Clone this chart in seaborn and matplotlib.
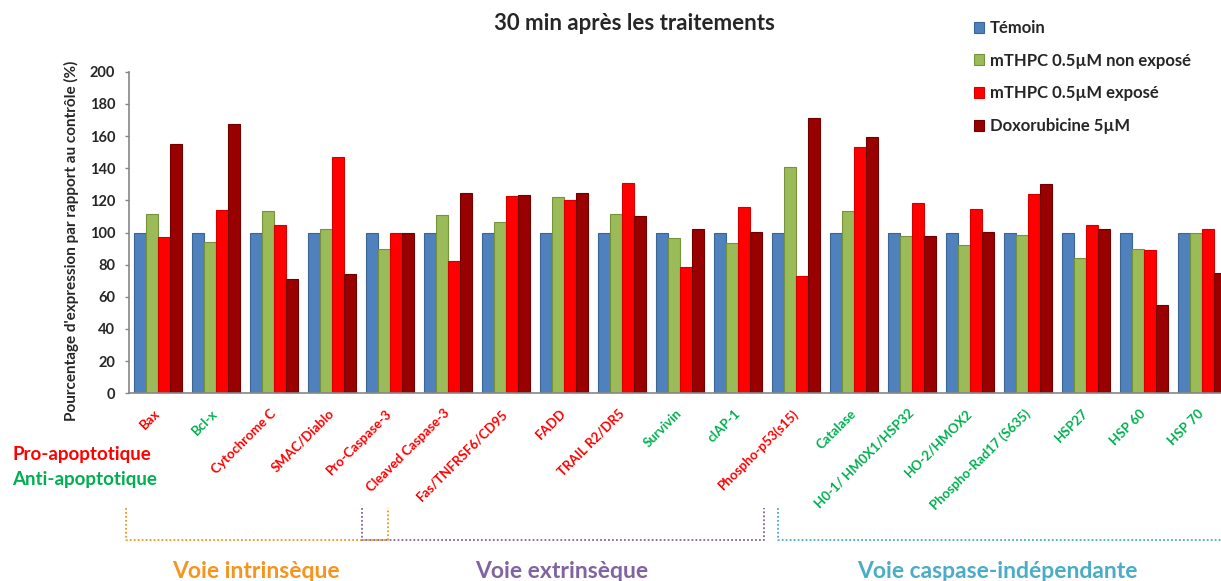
import numpy as np
import pandas as pd
import matplotlib
matplotlib.use("Agg")
import matplotlib.pyplot as plt
import seaborn as sns
from matplotlib.lines import Line2D

# ---- data -------------------------------------------------------------
marqueurs = [
    "Bax", "Bcl-x", "Cytochrome C", "SMAC/Diablo", "Pro-Caspase-3",
    "Cleaved Caspase-3", "Fas/TNFRSF6/CD95", "FADD", "TRAIL R2/DR5",
    "Survivin", "cIAP-1", "Phospho-p53(s15)", "Catalase",
    "H0-1/ HM0X1/HSP32", "HO-2/HMOX2", "Phospho-Rad17 (S635)",
    "HSP27", "HSP 60", "HSP 70",
]
# "pro" = pro-apoptotic (red label), "anti" = anti-apoptotic (green label)
role = [
    "pro", "anti", "pro", "pro", "pro",
    "pro", "pro", "pro", "pro",
    "anti", "anti", "pro", "anti",
    "anti", "anti", "anti",
    "anti", "anti", "anti",
]
temoin = [100, 100, 100, 100, 100, 100, 100, 100, 100, 100,
          100, 100, 100, 100, 100, 100, 100, 100, 100]
mthpc_non_expose = [111.4, 94.2, 113.2, 102.4, 90.0, 111.1, 106.8, 122.1, 111.5, 96.6,
                    93.3, 140.9, 113.6, 97.7, 92.3, 98.5, 84.4, 90.0, 99.5]
mthpc_expose = [97.1, 114.3, 104.9, 146.9, 100.0, 82.0, 122.5, 120.0, 130.8, 78.6,
                115.9, 72.8, 153.1, 118.1, 114.6, 123.9, 104.7, 89.0, 102.0]
doxorubicine = [154.8, 167.7, 70.8, 74.3, 100.0, 124.8, 123.1, 124.8, 110.1, 102.0,
                100.3, 171.5, 159.3, 98.1, 100.6, 130.1, 102.0, 54.8, 74.7]

series_names = ["Témoin", "mTHPC 0.5µM non exposé", "mTHPC 0.5µM exposé", "Doxorubicine 5µM"]
series_values = [temoin, mthpc_non_expose, mthpc_expose, doxorubicine]
y_ticks = [0, 20, 40, 60, 80, 100, 120, 140, 160, 180, 200]

# ---- styling ------------------------------------------------------------
fill_colors = ["#4F81BD", "#9BBB59", "#FF0000", "#990000"]
edge_colors = ["#3A6496", "#76923C", "#D40000", "#700000"]
RED = "#FF0000"
GREEN = "#00B050"
AXIS_GREY = "#868686"

sns.set_style("white")
plt.rcParams["font.family"] = ["Lato", "DejaVu Sans"]
plt.rcParams["font.weight"] = "bold"

df = pd.DataFrame({
    "marqueur": np.tile(marqueurs, len(series_names)),
    "traitement": np.repeat(series_names, len(marqueurs)),
    "valeur": np.concatenate(series_values),
})

W, H = 1221, 581
fig = plt.figure(figsize=(W / 100, H / 100), dpi=100)
n = len(marqueurs)
group_px = 58.0
ax = fig.add_axes([129 / W, (H - 393.3) / H, n * group_px / W, 321.6 / H])

sns.barplot(
    data=df, x="marqueur", y="valeur", hue="traitement",
    order=marqueurs, hue_order=series_names,
    palette=fill_colors, saturation=1, width=0.82, gap=0,
    errorbar=None, linewidth=0.8, ax=ax,
)
for cont, ec in zip(ax.containers, edge_colors):
    for bar in cont:
        bar.set_edgecolor(ec)

ax.set_xlim(-0.5, n - 0.5)
ax.set_ylim(0, 200)
ax.set_yticks(y_ticks)
ax.set_yticklabels([str(v) for v in y_ticks], fontsize=10.5, fontweight="bold")

ax.set_xticks(range(n))
ax.set_xticklabels(marqueurs, rotation=45, ha="right", va="center",
                   rotation_mode="anchor", fontsize=9.5, fontweight="bold")
for lab, r in zip(ax.get_xticklabels(), role):
    lab.set_color(RED if r == "pro" else GREEN)
ax.set_xticks(np.arange(-0.5, n, 1.0), minor=True)
ax.tick_params(axis="x", which="major", length=0, pad=13)
ax.tick_params(axis="x", which="minor", direction="inout", length=7,
               color=AXIS_GREY, width=1)
ax.tick_params(axis="y", direction="out", length=3, pad=7, color=AXIS_GREY, width=1,
               left=True)
ax.set_xlabel("")
ax.set_ylabel("Pourcentage d'expression par rapport au contrôle (%)",
              fontsize=11, fontweight="bold")
ax.yaxis.set_label_coords((79 - 129) / (n * group_px), (393.3 - 240.5) / 321.6)

for side in ["top", "right"]:
    ax.spines[side].set_visible(False)
for side in ["left", "bottom"]:
    ax.spines[side].set_color(AXIS_GREY)
    ax.spines[side].set_linewidth(1.2)
ax.grid(False)

sns.move_legend(
    ax, "upper left", bbox_to_anchor=(974 / W, 1 - 20 / H),
    bbox_transform=fig.transFigure, frameon=False, title=None,
    fontsize=12, handlelength=0.62, handleheight=0.62, handletextpad=0.35,
    labelspacing=1.0, borderpad=0, borderaxespad=0,
)
for t in ax.get_legend().get_texts():
    t.set_fontweight("bold")
for h, ec in zip(ax.get_legend().legend_handles, edge_colors):
    h.set_edgecolor(ec)

# ---- titles and annotations -------------------------------------------
fig.text(634 / W, 1 - 30 / H, "30 min après les traitements", ha="center",
         va="baseline", fontsize=16, fontweight="bold")
fig.text(12 / W, 1 - 460 / H, "Pro-apoptotique", ha="left", va="baseline",
         fontsize=13.5, fontweight="bold", color=RED)
fig.text(12 / W, 1 - 485 / H, "Anti-apoptotique", ha="left", va="baseline",
         fontsize=13.5, fontweight="bold", color=GREEN)

# pathway brackets (pixel coordinates converted to figure fractions)
def bracket(xs, ys, color):
    fig.add_artist(Line2D([x / W for x in xs], [1 - y / H for y in ys],
                          transform=fig.transFigure, color=color, lw=1.3,
                          linestyle=(0, (1, 1.2))))

ORANGE = "#F7941D"
PURPLE = "#8064A2"
TEAL = "#4BACC6"
bracket([125.7, 125.7, 387.7, 387.7], [508, 540, 540, 508], ORANGE)
bracket([361.5, 361.5, 764, 764], [508, 540, 540, 508], PURPLE)
bracket([777.7, 777.7, 1225], [508, 540, 540], TEAL)

fig.text(256 / W, 1 - 578 / H, "Voie intrinsèque", ha="center", va="baseline",
         fontsize=16.5, fontweight="bold", color=ORANGE)
fig.text(561.5 / W, 1 - 578 / H, "Voie extrinsèque", ha="center", va="baseline",
         fontsize=16.5, fontweight="bold", color=PURPLE)
fig.text(997 / W, 1 - 578 / H, "Voie caspase-indépendante", ha="center", va="baseline",
         fontsize=16.5, fontweight="bold", color=TEAL)

fig.savefig("out.png", dpi=100)
